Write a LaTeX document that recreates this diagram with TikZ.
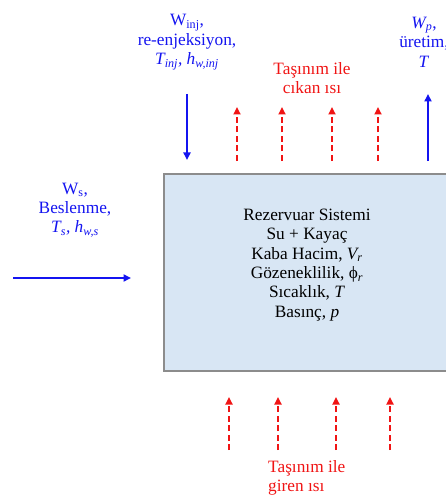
\documentclass[tikz,border=0pt]{standalone}
\usepackage{fontspec}
\setmainfont{Liberation Serif}
\usetikzlibrary{arrows.meta}
\definecolor{flowblue}{RGB}{20,20,240}
\definecolor{heatred}{RGB}{240,20,20}
\definecolor{boxfill}{RGB}{216,230,244}
\definecolor{boxedge}{RGB}{140,140,140}
\tikzset{
  lbl/.style={align=center, inner sep=0pt, font=\fontsize{17.3}{19.4}\selectfont},
  bluelbl/.style={lbl, text=flowblue},
  redlbl/.style={lbl, text=heatred},
  flow/.style={draw=flowblue, line width=2.2pt, -{Triangle[length=7.5pt,width=7pt]}},
  heat/.style={draw=heatred, line width=1.7pt, dash pattern=on 6pt off 3.5pt,
    -{Triangle[length=7.5pt,width=7pt]}},
}
\begin{document}
\begin{tikzpicture}[x=1pt,y=-1pt]
\useasboundingbox (0,0) rectangle (446,497);

% reservoir block
\node (res) [draw=boxedge, line width=2.6pt, fill=boxfill, minimum width=283pt,
  minimum height=197pt, anchor=north west, inner sep=0pt] at (162.5,172.5) {};
\node (props) [lbl, text=black] at (307,265)
  {Rezervuar Sistemi\\ Su + Kayaç\\ Kaba Hacim, \textit{V\textsubscript{r}}\\
   Gözeneklilik, ϕ\textsubscript{\textit{r}}\\ Sıcaklık, \textit{T}\\ Basınç, \textit{p}};

% recharge from the left
\node (rech) [bluelbl] at (75,210)
  {W\textsubscript{s},\\ Beslenme,\\ \textit{T\textsubscript{s}, h\textsubscript{w,s}}};
\coordinate (rechA) at (13,278);
\coordinate (rechB) at (131,278);
\draw[flow] (rechA) -- (rechB);

% re-injection from the top
\node (inj) [bluelbl] at (187,42)
  {W\textsubscript{inj},\\ re-enjeksiyon,\\ \textit{T\textsubscript{inj}, h\textsubscript{w,inj}}};
\coordinate (injA) at (187,94);
\coordinate (injB) at (187,160);
\draw[flow] (injA) -- (injB);

% production at the top right
\node (prod) [bluelbl] at (424,42)
  {\textit{W\textsubscript{p}},\\ üretim,\\ \textit{T}};
\coordinate (prodA) at (428,161);
\coordinate (prodB) at (428,94);
\draw[flow] (prodA) -- (prodB);

% heat carried out by convection
\node (hout) [redlbl] at (312,78) {Taşınım ile\\ cıkan ısı};
\foreach \i/\x in {1/237,2/282,3/332,4/378}{
  \coordinate (oa\i) at (\x,161);
  \coordinate (ob\i) at (\x,107);
  \draw[heat] (oa\i) -- (ob\i);
}

% heat brought in by convection
\foreach \i/\x in {1/229,2/278,3/336,4/390}{
  \coordinate (ia\i) at (\x,450);
  \coordinate (ib\i) at (\x,397);
  \draw[heat] (ia\i) -- (ib\i);
}
\node (hin) [redlbl, align=left, anchor=north west] at (268,460) {Taşınım ile\\ giren ısı};
\end{tikzpicture}
\end{document}
